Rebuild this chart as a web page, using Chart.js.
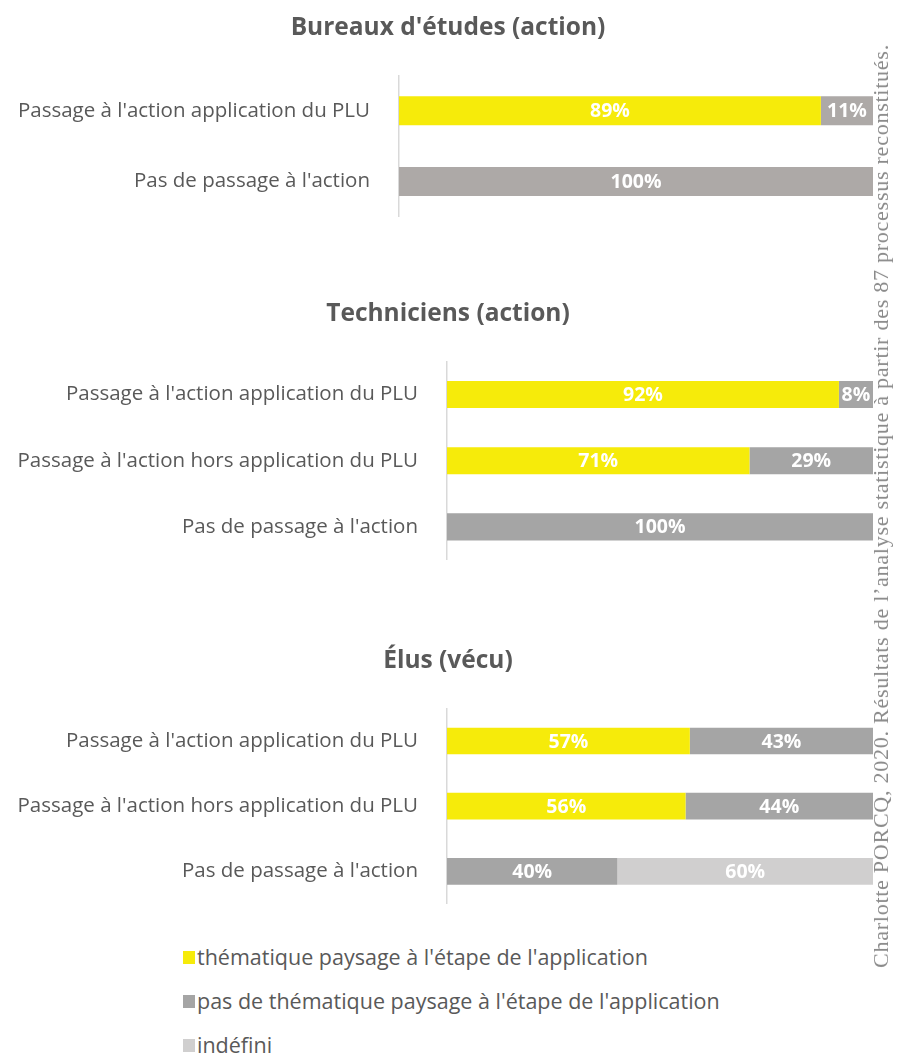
<!DOCTYPE html>
<html lang="fr">
<head>
<meta charset="utf-8">
<script src="https://cdn.jsdelivr.net/npm/chart.js@4.4.0/dist/chart.umd.min.js"></script>
<style>
  html, body { margin: 0; padding: 0; background: #fff; }
  body { width: 908px; height: 1056px; position: relative; overflow: hidden; font-family: "Open Sans", sans-serif; }
  canvas.panel { position: absolute; left: 0; }
  #legend { position: absolute; left: 183px; top: 0; }
  .item { position: absolute; left: 0; white-space: nowrap; color: #595959; font-size: 21.5px; line-height: 28px; }
  .item span.sw { position: absolute; left: 0; top: 8px; width: 12px; height: 13px; }
  .item span.tx { position: absolute; left: 14px; top: 0; }
  #source { position: absolute; left: 881px; top: 506px; white-space: nowrap; color: #8a8a8a;
            font-family: "Liberation Serif", "DejaVu Serif", serif; font-size: 22px; letter-spacing: 0.75px;
            transform: translate(-50%, -50%) rotate(-90deg); }
</style>
</head>
<body>
<canvas class="panel" id="c1" width="908" height="213" style="top:4px"></canvas>
<canvas class="panel" id="c2" width="908" height="270" style="top:290px"></canvas>
<canvas class="panel" id="c3" width="908" height="267" style="top:637px"></canvas>
<div id="legend"></div>
<div id="source">Charlotte PORCQ, 2020. Résultats de l’analyse statistique à partir des 87 processus reconstitués.</div>
<script>
// Series and categories
const seriesNames = [
  "thématique paysage à l'étape de l'application",
  "pas de thématique paysage à l'étape de l'application",
  "indéfini"
];
const seriesColors = ["#F6EB0A", "#A5A5A5", "#D0CFCF"];

const bureauxTitle = "Bureaux d'études (action)";
const bureauxCategories = ["Passage à l'action application du PLU", "Pas de passage à l'action"];
const bureauxTheme   = [89, 0];
const bureauxNoTheme = [11, 100];

const techTitle = "Techniciens (action)";
const techCategories = ["Passage à l'action application du PLU", "Passage à l'action hors application du PLU", "Pas de passage à l'action"];
const techTheme   = [92, 71, 0];
const techNoTheme = [8, 29, 100];

const elusTitle = "Élus (vécu)";
const elusCategories = ["Passage à l'action application du PLU", "Passage à l'action hors application du PLU", "Pas de passage à l'action"];
const elusTheme     = [57, 56, 0];
const elusNoTheme   = [43, 44, 40];
const elusUndefined = [0, 0, 60];

const FONT = "'Open Sans', sans-serif";
const TEXT = "#595959";
const TITLE_TOP = 9, TITLE_LINE = 29.4, TITLE_GAP = 33;

// White percentage labels centred in each segment
const segmentLabels = {
  id: 'segmentLabels',
  afterDatasetsDraw(chart) {
    const ctx = chart.ctx;
    ctx.save();
    ctx.fillStyle = '#ffffff';
    ctx.font = "bold 19.5px " + FONT;
    ctx.textAlign = 'center';
    ctx.textBaseline = 'middle';
    chart.data.datasets.forEach((ds, i) => {
      const meta = chart.getDatasetMeta(i);
      meta.data.forEach((bar, j) => {
        const v = ds.data[j];
        if (!v) return;
        const p = bar.getCenterPoint();
        ctx.fillText(v + '%', p.x, p.y + 1);
      });
    });
    ctx.restore();
  }
};

// Panel heading, centred over the panel (axis labels included)
const panelTitle = {
  id: 'panelTitle',
  afterDraw(chart, args, opts) {
    const ctx = chart.ctx;
    ctx.save();
    ctx.fillStyle = TEXT;
    ctx.font = "bold 24.5px " + FONT;
    ctx.textAlign = 'center';
    ctx.textBaseline = 'middle';
    ctx.fillText(opts.text, (23 + chart.chartArea.right) / 2, TITLE_TOP + TITLE_LINE / 2);
    ctx.restore();
  }
};

function makeChart(id, title, categories, datasets, axisX) {
  return new Chart(document.getElementById(id), {
    type: 'bar',
    data: { labels: categories, datasets },
    options: {
      indexAxis: 'y',
      responsive: false,
      animation: false,
      layout: { padding: { left: 0, right: 35, top: TITLE_TOP + TITLE_LINE + TITLE_GAP, bottom: 0 } },
      datasets: { bar: { categoryPercentage: 1, barPercentage: 0.41 } },
      plugins: {
        legend: { display: false },
        tooltip: { enabled: false },
        title: { display: false },
        panelTitle: { text: title }
      },
      scales: {
        x: { stacked: true, min: 0, max: 100, display: false },
        y: {
          stacked: true,
          grid: { display: false, drawTicks: false },
          border: { display: true, color: '#D9D9D9', width: 1.5 },
          ticks: { color: TEXT, padding: 29, font: { family: FONT, size: 20.5 } },
          afterFit(scale) {
            scale.width = axisX;
            scale.paddingTop = 0;
            scale.paddingBottom = 0;
          }
        }
      }
    },
    plugins: [segmentLabels, panelTitle]
  });
}

makeChart('c1', bureauxTitle, bureauxCategories, [
  { label: seriesNames[0], data: bureauxTheme,   backgroundColor: seriesColors[0] },
  { label: seriesNames[1], data: bureauxNoTheme, backgroundColor: "#ADA9A7" }
], 399);

makeChart('c2', techTitle, techCategories, [
  { label: seriesNames[0], data: techTheme,   backgroundColor: seriesColors[0] },
  { label: seriesNames[1], data: techNoTheme, backgroundColor: seriesColors[1] }
], 447);

makeChart('c3', elusTitle, elusCategories, [
  { label: seriesNames[0], data: elusTheme,     backgroundColor: seriesColors[0] },
  { label: seriesNames[1], data: elusNoTheme,   backgroundColor: seriesColors[1] },
  { label: seriesNames[2], data: elusUndefined, backgroundColor: seriesColors[2] }
], 447);

// Legend below the charts
const legend = document.getElementById('legend');
const legendTops = [943, 987, 1031];
seriesNames.forEach((name, i) => {
  const row = document.createElement('div');
  row.className = 'item';
  row.style.top = legendTops[i] + 'px';
  row.innerHTML = '<span class="sw" style="background:' + seriesColors[i] + '"></span><span class="tx"></span>';
  row.querySelector('.tx').textContent = name;
  legend.appendChild(row);
});
</script>
</body>
</html>
